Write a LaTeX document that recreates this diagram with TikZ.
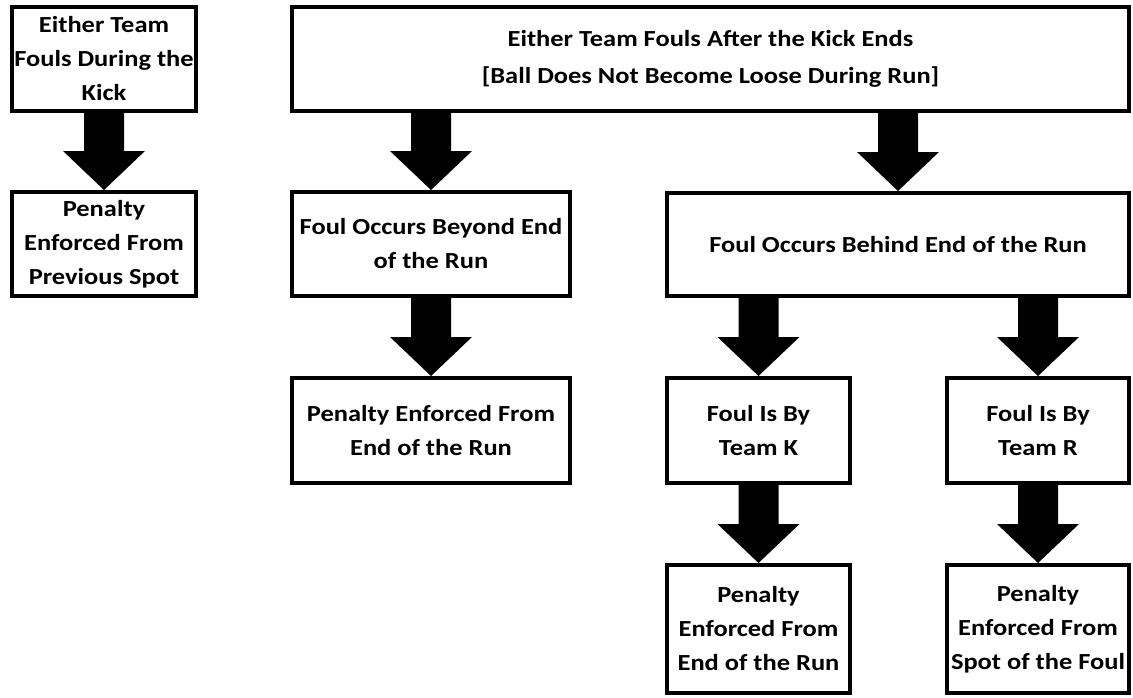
\documentclass[tikz,border=0pt]{standalone}
\usepackage{fontspec}
\setmainfont{Carlito}[FakeStretch=1.15]
\usetikzlibrary{calc}

\newcommand{\bigarrow}[2]{%
  \fill ($(#2.north |- #1.south)+(-20pt,0)$) -- ($(#2.north)+(-20pt,39pt)$)
    -- ($(#2.north)+(-41pt,39pt)$) -- (#2.north) -- ($(#2.north)+(41pt,39pt)$)
    -- ($(#2.north)+(20pt,39pt)$) -- ($(#2.north |- #1.south)+(20pt,0)$) -- cycle;}

\begin{document}
\begin{tikzpicture}[x=1pt, y=-1pt,
  box/.style={draw, line width=4pt, align=center, inner sep=0pt,
    font=\fontsize{23}{34}\selectfont\bfseries}]
\useasboundingbox (0,0) rectangle (1133,697);

\node[box, minimum width=184pt, minimum height=104pt] (kick) at (104,59) {Either Team\\Fouls During the\\Kick};
\node[box, minimum width=184pt, minimum height=104pt] (prev) at (104,244) {Penalty\\Enforced From\\Previous Spot};
\bigarrow{kick}{prev}

\node[box, minimum width=837pt, minimum height=104pt] (after) at (710.5,59) {Either Team Fouls After the Kick Ends\\[3pt]{}[Ball Does Not Become Loose During Run]};
\node[box, minimum width=278pt, minimum height=104pt] (beyond) at (431,244) {Foul Occurs Beyond End\\of the Run};
\node[box, minimum width=462pt, minimum height=103pt] (behind) at (898,244.5) {Foul Occurs Behind End of the Run};
\bigarrow{after}{beyond}
\bigarrow{after}{behind}

\node[box, minimum width=278pt, minimum height=105pt] (endrun) at (431,430.5) {Penalty Enforced From\\End of the Run};
\bigarrow{beyond}{endrun}

\node[box, minimum width=183pt, minimum height=105pt] (teamk) at (758.5,430.5) {Foul Is By\\Team K};
\node[box, minimum width=182pt, minimum height=105pt] (teamr) at (1038,430.5) {Foul Is By\\Team R};
\bigarrow{behind}{teamk}
\bigarrow{behind}{teamr}

\node[box, minimum width=183pt, minimum height=128pt] (endrunk) at (758.5,629) {Penalty\\Enforced From\\End of the Run};
\node[box, minimum width=182pt, minimum height=128pt] (spot) at (1038,629) {Penalty\\Enforced From\\Spot of the Foul};
\bigarrow{teamk}{endrunk}
\bigarrow{teamr}{spot}
\end{tikzpicture}
\end{document}
